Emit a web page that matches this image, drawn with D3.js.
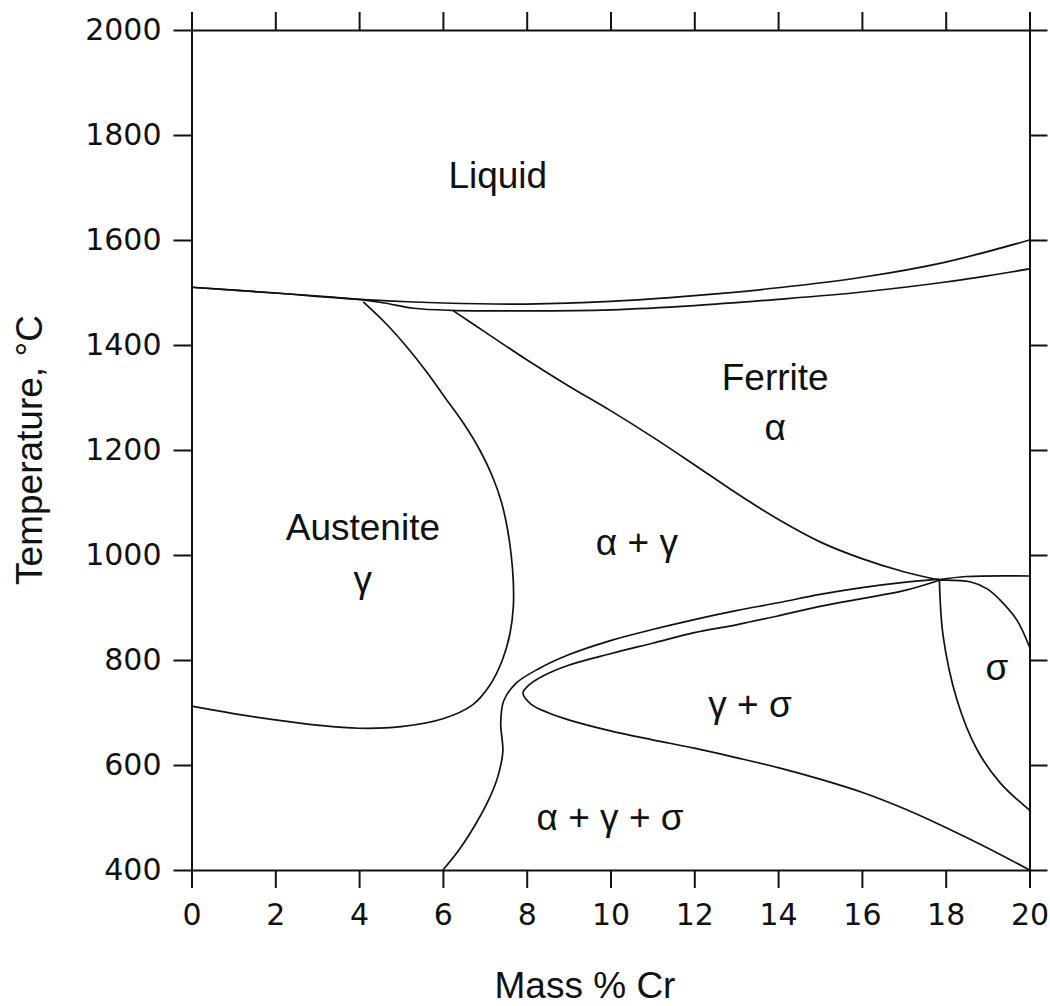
<!DOCTYPE html>
<html>
<head>
<meta charset="utf-8">
<script src="https://cdn.jsdelivr.net/npm/d3@7"></script>
<style>
  body { margin: 0; background: #fff; }
  .axis path, .axis line { stroke: #111; stroke-width: 2; }
  .axis text { font-family: 'DejaVu Sans', sans-serif; font-size: 30px; fill: #111; }
  .curve { fill: none; stroke: #111; stroke-width: 1.7; }
  .lbl { font-family: 'Liberation Sans', Arial, sans-serif; font-size: 37px; fill: #111; text-anchor: middle; }
</style>
</head>
<body>
<svg id="chart" width="1050" height="1006"></svg>
<script>
// boundaries as [mass % Cr, temperature °C]
const liquidus = [[0,1510],[2,1499],[4,1487],[6,1480],[8,1478],[10,1483],[12,1494],[14,1509],[16,1529],[18,1558],[20,1600]]
const solidus = [[0,1510],[2,1499],[4,1487],[4.6,1480],[5.3,1470],[6.2,1466],[8,1465],[10,1467],[12,1475],[14,1487],[16,1501],[18,1520],[20,1545]]
const austenite = [[4.1,1482],[4.65,1440],[5.1,1400],[5.6,1350],[6.05,1300],[6.5,1250],[6.88,1200],[7.18,1150],[7.4,1100],[7.54,1050],[7.63,1000],[7.68,950],[7.68,900],[7.6,850],[7.42,800],[7.12,752],[6.7,714],[6.0,688],[5.0,673],[4.0,670],[3.0,676],[2.0,686],[1.0,698],[0,712]]
const ferriteBoundary = [[6.25,1465],[7.0,1425],[8.0,1372],[9.0,1322],[10.0,1275],[11.0,1225],[12.0,1172],[13.0,1118],[14.0,1068],[15.0,1025],[16.0,993],[17.0,968],[17.85,952]]
const sigmaSolvus = [[6.0,400],[6.4,440],[6.8,490],[7.1,535],[7.3,575],[7.43,625],[7.38,680],[7.45,722],[7.75,756],[8.3,784],[9.0,810],[10.0,837],[11.0,858],[12.0,877],[13.0,894],[14.0,909],[15.0,925],[16.0,938],[17.0,948],[17.85,954]]
const gammaSigma = [[17.85,952],[17.0,932],[16.0,917],[15.0,902],[14.0,884],[13.0,867],[12.0,852],[11.0,832],[10.0,812],[9.0,790],[8.4,770],[8.05,752],[7.91,737],[8.1,716],[8.5,700],[9.0,686],[10.0,665],[11.0,648],[12.0,632],[13.0,614],[14.0,595],[15.0,573],[16.0,548],[17.0,517],[18.0,481],[19.0,442],[20,400]]
const sigmaLeft = [[17.85,952],[17.94,845],[18.27,724],[18.75,629],[19.3,566],[20,514]]
const sigmaTop = [[17.85,952],[18.58,949],[19.0,935],[19.3,914],[19.7,876],[20,825]]
const transition = [[17.85,953],[18.5,959],[20,960]]

const curves = [liquidus, solidus, austenite, ferriteBoundary, sigmaSolvus, gammaSigma, sigmaLeft, sigmaTop, transition]

const labels = [
  ['Liquid', 7.31, 1699],
  ['Ferrite', 13.93, 1314],
  ['α', 13.93, 1219],
  ['Austenite', 4.09, 1029],
  ['γ', 4.09, 930],
  ['α + γ', 10.63, 1000],
  ['γ + σ', 13.33, 691],
  ['α + γ + σ', 9.99, 476],
  ['σ', 19.22, 762]
]

const xTicks = d3.range(0, 21, 2)
const yTicks = d3.range(400, 2001, 200)

const svg = d3.select('#chart')

const x = d3.scaleLinear().domain([0, 20]).range([191.5, 1029.5])
const y = d3.scaleLinear().domain([400, 2000]).range([870, 30])

const tick = 18

svg.append('g')
    .attr('class', 'axis')
    .attr('transform', 'translate(0,870)')
    .call(d3.axisBottom(x).tickValues(xTicks).tickSize(tick).tickSizeOuter(0).tickPadding(16).tickFormat(d3.format('d')))

svg.append('g')
    .attr('class', 'axis')
    .attr('transform', 'translate(0,30)')
    .call(d3.axisTop(x).tickValues(xTicks).tickSize(tick).tickSizeOuter(0).tickFormat(''))

svg.append('g')
    .attr('class', 'axis')
    .attr('transform', 'translate(191.5,0)')
    .call(d3.axisLeft(y).tickValues(yTicks).tickSize(tick).tickSizeOuter(0).tickPadding(12).tickFormat(d3.format('d')))

svg.append('g')
    .attr('class', 'axis')
    .attr('transform', 'translate(1029.5,0)')
    .call(d3.axisRight(y).tickValues(yTicks).tickSize(tick).tickSizeOuter(0).tickFormat(''))

const line = d3.line()
    .x(d => x(d[0]))
    .y(d => y(d[1]))
    .curve(d3.curveCatmullRom.alpha(0.5))

svg.append('g')
  .selectAll('path')
  .data(curves)
  .enter().append('path')
    .attr('class', 'curve')
    .attr('d', line)

svg.append('g')
  .selectAll('text')
  .data(labels)
  .enter().append('text')
    .attr('class', 'lbl')
    .attr('x', d => x(d[1]))
    .attr('y', d => y(d[2]))
    .text(d => d[0])

svg.append('text')
    .attr('class', 'lbl')
    .attr('x', 585)
    .attr('y', 998)
    .text('Mass % Cr')

svg.append('text')
    .attr('class', 'lbl')
    .attr('transform', 'translate(42,' + ((y.range()[0] + y.range()[1]) / 2) + ') rotate(-90)')
    .text('Temperature, °C')
</script>
</body>
</html>
